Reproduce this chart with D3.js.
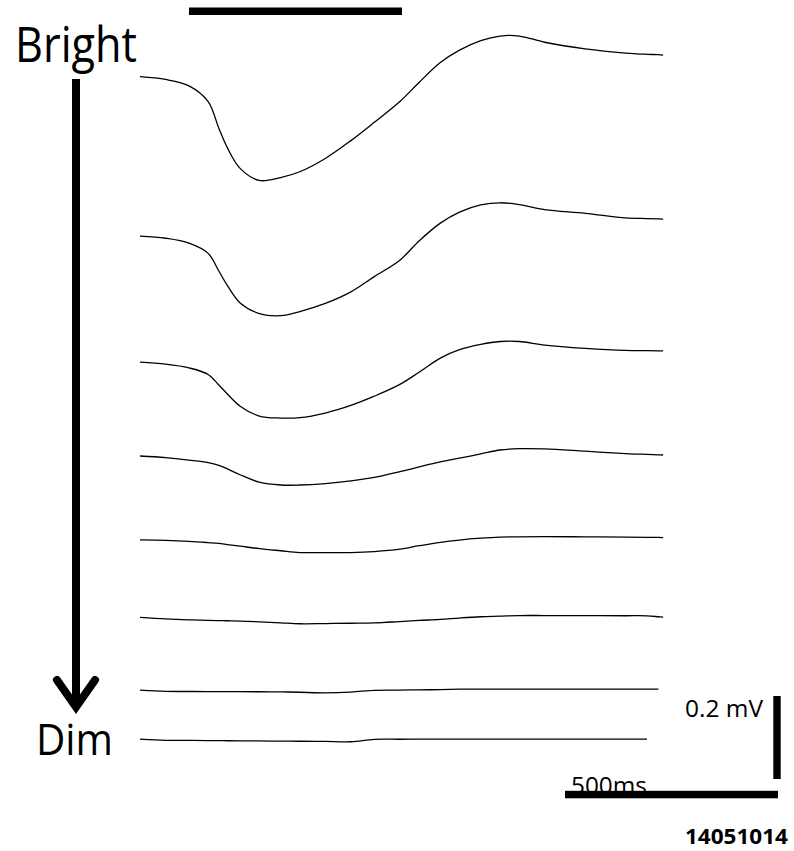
<!DOCTYPE html>
<html>
<head>
<meta charset="utf-8">
<script src="https://cdn.jsdelivr.net/npm/d3@7"></script>
<style>
  body { margin: 0; background: #fff; }
  svg { display: block; }
</style>
</head>
<body>
<svg id="fig" width="794" height="851"></svg>
<script>
// Sample times of each sweep (ms from sweep start)
const timeMs = [0, 60, 115, 160, 185, 205, 235, 280, 330, 375, 435, 495, 550, 610,
                655, 705, 750, 800, 845, 890, 950, 1045, 1140, 1190, 1217, 1228];

// Responses in mV relative to the pre-stimulus baseline, brightest flash first
const trace1 = [0, -0.0067, -0.022, -0.060, -0.124, -0.171, -0.221, -0.250, -0.243, -0.229,
                -0.197, -0.154, -0.110, -0.060, -0.014, 0.034, 0.064, 0.087, 0.098, 0.098,
                0.083, 0.067, 0.057, 0.054, 0.053, 0.052];
const trace2 = [0, -0.0053, -0.0171, -0.0417, -0.0841, -0.1190, -0.1612, -0.1867, -0.1918, -0.1819,
                -0.1624, -0.1345, -0.0978, -0.0581, -0.0120, 0.0311, 0.0578, 0.0749, 0.0802, 0.0759,
                0.0636, 0.0549, 0.0438, 0.0422, 0.0412, 0.0410];
const trace3 = [0, -0.0046, -0.0137, -0.0295, -0.0550, -0.0764, -0.1060, -0.1296, -0.1345, -0.1335,
                -0.1224, -0.1041, -0.0819, -0.0535, -0.0241, 0.0099, 0.0301, 0.0429, 0.0499, 0.0499,
                0.0414, 0.0335, 0.0284, 0.0277, 0.0272, 0.0272];
const trace4 = [0, -0.0039, -0.0099, -0.0160, -0.0225, -0.0310, -0.0451, -0.0631, -0.0699, -0.0699,
                -0.0663, -0.0598, -0.0516, -0.0378, -0.0263, -0.0142, -0.0051, 0.0051, 0.0145, 0.0178,
                0.0171, 0.0116, 0.0058, 0.0039, 0.0029, 0.0024];
const trace5 = [0, -0.0012, -0.0036, -0.0067, -0.0087, -0.0113, -0.0152, -0.0212, -0.0263, -0.0306,
                -0.0306, -0.0306, -0.0282, -0.0224, -0.0142, -0.0060, -0.0005, 0.0039, 0.0065, 0.0072,
                0.0077, 0.0072, 0.0065, 0.0060, 0.0058, 0.0055];
const trace6 = [0, -0.0036, -0.0058, -0.0070, -0.0075, -0.0080, -0.0087, -0.0106, -0.0130, -0.0152,
                -0.0147, -0.0140, -0.0133, -0.0099, -0.0072, -0.0048, -0.0014, 0.0017, 0.0031, 0.0046,
                0.0046, 0.0043, 0.0041, 0.0039, 0.0017, 0.0007];
const trace7 = [0, -0.0031, -0.0034, -0.0036, -0.0036, -0.0039, -0.0039, -0.0041, -0.0043, -0.0053,
                -0.0067, -0.0048, -0.0005, 0, 0.0005, 0.0012, 0.0022, 0.0024, 0.0024, 0.0024,
                0.0024, 0.0024, 0.0024, 0.0024, 0.0024, null];
const trace8 = [0, -0.0031, -0.0034, -0.0036, -0.0039, -0.0041, -0.0043, -0.0046, -0.0051, -0.0053,
                -0.0058, -0.0065, -0.0007, -0.0005, 0, 0, 0, 0, 0, 0,
                0, 0, 0, 0, null, null];

// Display offset of each sweep (mV) so the sweeps stack downward
const sweepOffsetMv = [0, 0.384, 0.688, 0.914, 1.116, 1.303, 1.478, 1.596];

// Light stimulus window (ms) and calibration bars
const stimulusMs = [115, 615];
const scaleBarMs = 500;
const scaleBarMv = 0.2;
const intensityLabels = ["Bright", "Dim"];
const recordingId = "14051014";

const traces = [trace1, trace2, trace3, trace4, trace5, trace6, trace7, trace8];

const svg = d3.select("#fig");
const font = "'Open Sans', 'Noto Sans', sans-serif";

// 0.426 px per ms, 415 px per mV
const x = d3.scaleLinear().domain([0, 1228]).range([140, 140 + 1228 * 0.426]);
const y = d3.scaleLinear().domain([0, -1]).range([76.7, 76.7 + 415]);

const line = d3.line()
  .defined(d => d.v !== null)
  .x(d => x(d.t))
  .y(d => y(d.v))
  .curve(d3.curveCatmullRom.alpha(0.5));

svg.append("g")
  .selectAll("path")
  .data(traces.map((vals, i) => vals.map((v, j) => ({
    t: timeMs[j],
    v: v === null ? null : v - sweepOffsetMv[i]
  }))))
  .join("path")
  .attr("d", line)
  .attr("fill", "none")
  .attr("stroke", "#000")
  .attr("stroke-width", 1.3)
  .attr("stroke-linejoin", "round");

// Stimulus bar
svg.append("rect")
  .attr("x", x(stimulusMs[0]))
  .attr("y", 7.5)
  .attr("width", x(stimulusMs[1]) - x(stimulusMs[0]))
  .attr("height", 7.5)
  .attr("fill", "#000");

// Intensity arrow: Bright -> Dim
svg.append("line")
  .attr("x1", 76).attr("x2", 76)
  .attr("y1", 79).attr("y2", 704)
  .attr("stroke", "#000").attr("stroke-width", 8);
svg.append("path")
  .attr("d", "M57,680 L76,707 L95,680")
  .attr("fill", "none")
  .attr("stroke", "#000").attr("stroke-width", 8)
  .attr("stroke-linecap", "round").attr("stroke-linejoin", "miter");

svg.append("text")
  .attr("x", 15).attr("y", 62)
  .attr("font-family", font).attr("font-size", 50)
  .attr("textLength", 122).attr("lengthAdjust", "spacingAndGlyphs")
  .attr("fill", "#000")
  .text(intensityLabels[0]);
svg.append("text")
  .attr("x", 36).attr("y", 755)
  .attr("font-family", font).attr("font-size", 44)
  .attr("textLength", 77).attr("lengthAdjust", "spacingAndGlyphs")
  .attr("fill", "#000")
  .text(intensityLabels[1]);

// Calibration: voltage
const vBarLen = y(-scaleBarMv) - y(0);
svg.append("text")
  .attr("x", 685).attr("y", 717)
  .attr("font-family", font).attr("font-size", 23)
  .attr("textLength", 78).attr("lengthAdjust", "spacingAndGlyphs")
  .attr("fill", "#000")
  .text(`${scaleBarMv} mV`);
svg.append("rect")
  .attr("x", 773.3).attr("y", 696)
  .attr("width", 7.4).attr("height", vBarLen)
  .attr("fill", "#000");

// Calibration: time
const hBarLen = x(scaleBarMs) - x(0);
svg.append("text")
  .attr("x", 571).attr("y", 793.5)
  .attr("font-family", font).attr("font-size", 23)
  .attr("textLength", 76).attr("lengthAdjust", "spacingAndGlyphs")
  .attr("fill", "#000")
  .text(`${scaleBarMs}ms`);
svg.append("rect")
  .attr("x", 565).attr("y", 790.8)
  .attr("width", hBarLen).attr("height", 7.5)
  .attr("fill", "#000");

// Recording identifier
svg.append("text")
  .attr("x", 685).attr("y", 844)
  .attr("font-family", font).attr("font-size", 22).attr("font-weight", "bold")
  .attr("textLength", 103).attr("lengthAdjust", "spacingAndGlyphs")
  .attr("fill", "#000")
  .text(recordingId);
</script>
</body>
</html>
